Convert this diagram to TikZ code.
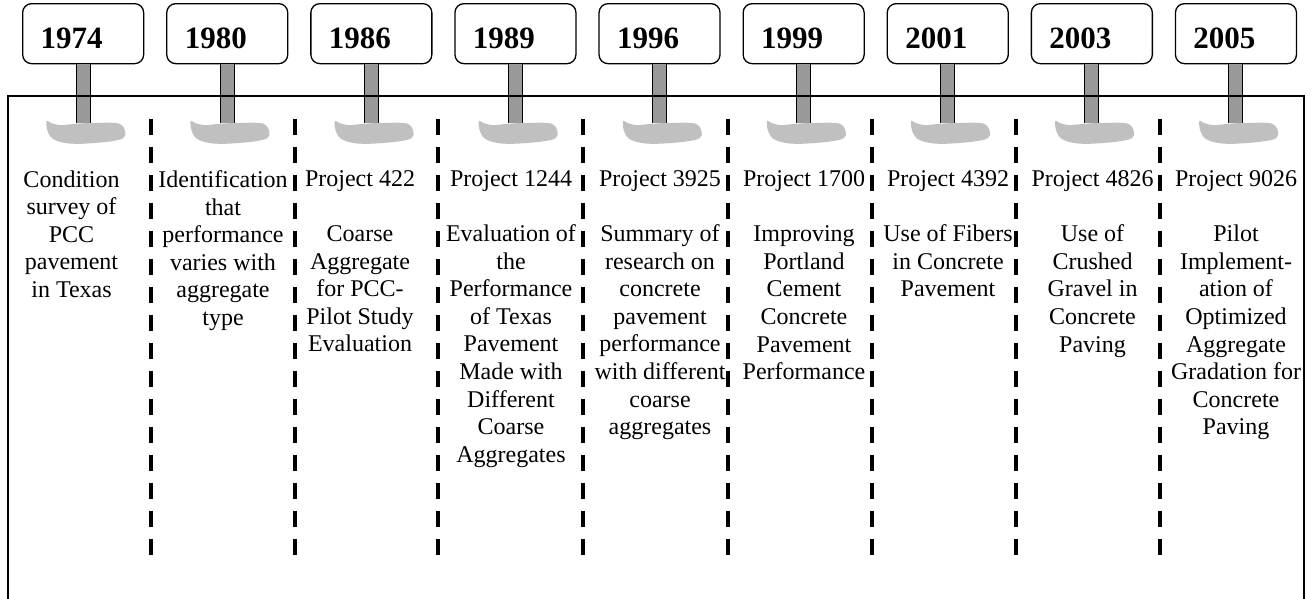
\documentclass[tikz,border=0pt]{standalone}
\usepackage{fontspec}
\setmainfont{Liberation Serif}
\usetikzlibrary{calc}
\definecolor{poleGrey}{RGB}{153,153,153}
\definecolor{blobGrey}{RGB}{192,192,192}
\begin{document}
\begin{tikzpicture}[x=1pt,y=-1pt,
  yearbox/.style={draw,line width=1.3pt,rounded corners=9pt,minimum height=60pt,
    text width=85pt,inner xsep=18pt,inner ysep=0pt,text height=30pt,text depth=0pt,
    align=left,font=\fontsize{31}{31}\selectfont\bfseries,anchor=north west},
  pole/.style={line width=1pt,double=poleGrey,double distance=13pt},
  frameline/.style={line width=2pt},
  sepline/.style={line width=4pt,dash pattern=on 16pt off 12pt},
  desc/.style={anchor=north,inner sep=0pt,align=center,
    font=\fontsize{24}{27.6}\selectfont}]
\useasboundingbox (0,0) rectangle (1312,598);

% year signs and their posts
\foreach \yr [count=\i] in {1974,1980,1986,1989,1996,1999,2001,2003,2005}{
  \node[yearbox] (y\i) at ({22+144.1*(\i-1)},3) {\yr};
  \coordinate (p\i) at ($(y\i.south)+(0,59)$);
  \draw[pole] (y\i.south) -- (p\i);
}

% outer frame
\draw[frameline] (8,620) -- (8,96) -- (1304,96) -- (1304,620);

% ground patches under the posts
\foreach \i in {1,...,9}{
  \fill[blobGrey,shift={(p\i)}] plot[smooth cycle,tension=0.55] coordinates
    {(-36.5,-2.5) (-32.5,-0.5) (-22.5,1.8) (-5.8,0.3) (14.2,-0.5) (35.8,0.3)
     (42,8) (40,15) (24.2,18.5) (-2.5,20.5) (-19.2,19.5) (-31,15) (-36,6.3)};
}

% column separators
\foreach \x in {151,295,438,583,728,872,1016,1160}
  \draw[sepline] (\x,119) -- (\x,555);

% column descriptions
\node[desc] (c1) at (71.5,170.3) {Condition\\survey of\\PCC\\pavement\\in Texas};
\node[desc] (c2) at (223,170.3) {Identification\\that\\performance\\varies with\\aggregate\\type};
\node[desc] (c3) at (360,170.3) {Project 422\\[27.6pt]Coarse\\Aggregate\\for PCC-\\Pilot Study\\Evaluation};
\node[desc] (c4) at (511,170.3) {Project 1244\\[27.6pt]Evaluation of\\the\\Performance\\of Texas\\Pavement\\Made with\\Different\\Coarse\\Aggregates};
\node[desc] (c5) at (660,170.3) {Project 3925\\[27.6pt]Summary of\\research on\\concrete\\pavement\\performance\\with different\\coarse\\aggregates};
\node[desc] (c6) at (804,170.3) {Project 1700\\[27.6pt]Improving\\Portland\\Cement\\Concrete\\Pavement\\Performance};
\node[desc] (c7) at (948,170.3) {Project 4392\\[27.6pt]Use of Fibers\\in Concrete\\Pavement};
\node[desc] (c8) at (1092.5,170.3) {Project 4826\\[27.6pt]Use of\\Crushed\\Gravel in\\Concrete\\Paving};
\node[desc] (c9) at (1236,170.3) {Project 9026\\[27.6pt]Pilot\\Implement-\\ation of\\Optimized\\Aggregate\\Gradation for\\Concrete\\Paving};
\end{tikzpicture}
\end{document}
